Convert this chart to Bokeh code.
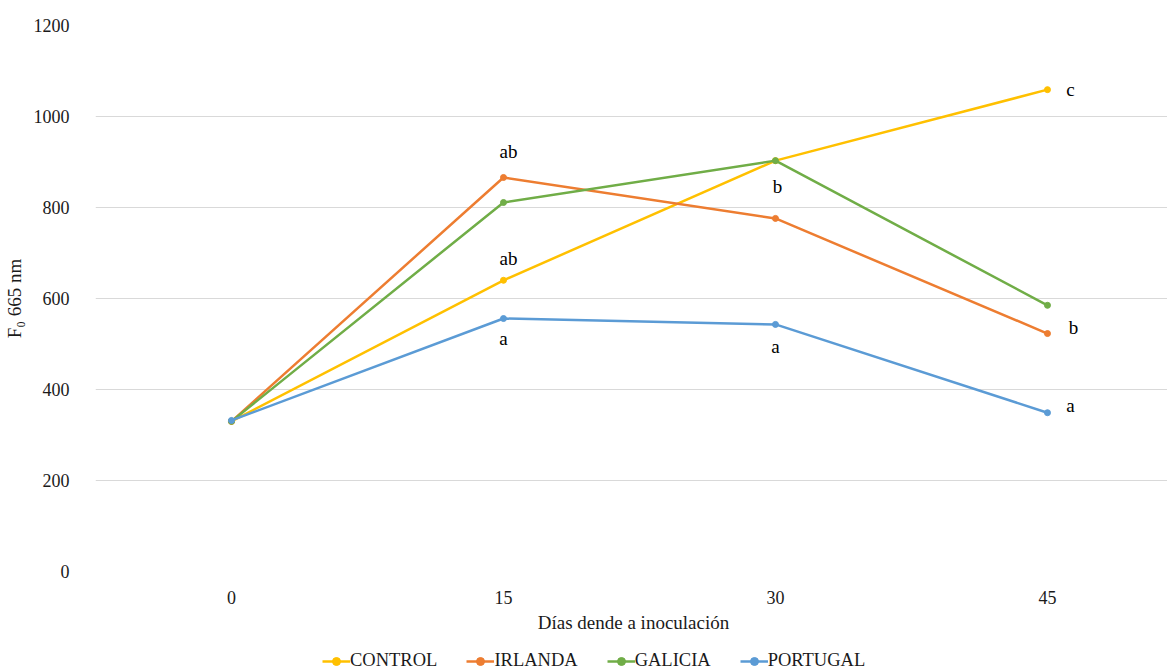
from bokeh.plotting import figure
from bokeh.layouts import column
from bokeh.models import (Range1d, FixedTicker, Legend, LegendItem, ColumnDataSource)
from bokeh.core.properties import value
from bokeh.embed import file_html
from bokeh.resources import INLINE

# Days after inoculation (categories) and F0 readings per treatment
days = ["0", "15", "30", "45"]
control = [330, 640, 903, 1059]
irlanda = [330, 866, 776, 523]
galicia = [330, 811, 903, 585]
portugal = [332, 556, 543, 349]

series_names = ["CONTROL", "IRLANDA", "GALICIA", "PORTUGAL"]
series_values = [control, irlanda, galicia, portugal]
colors = ["#FFC000", "#ED7D31", "#70AD47", "#5B9BD5"]

# Significance letters: (series index, day index, letter)
letters = [
    (1, 1, "ab"),
    (0, 1, "ab"),
    (3, 1, "a"),
    (2, 2, "b"),
    (3, 2, "a"),
    (0, 3, "c"),
    (1, 3, "b"),
    (3, 3, "a"),
]
# screen offsets (px) for each letter
letter_offsets = [(5, -26), (5, -22), (0, 20), (2, 26), (0, 22), (23, 0), (26, -6), (23, -7)]

FONT = "Liberation Serif"
TEXT_COLOR = "#1a1a1a"
xpos = list(range(len(days)))

p = figure(frame_width=1076, frame_height=546, output_backend="svg", toolbar_location=None,
           x_range=Range1d(-0.5, 3.456), y_range=Range1d(0, 1200),
           min_border_left=91, min_border_right=0, min_border_top=25,
           min_border_bottom=70)
p.outline_line_color = None
p.background_fill_color = "white"
p.border_fill_color = "white"

# axes
p.xaxis.ticker = FixedTicker(ticks=xpos)
p.xaxis.major_label_overrides = {i: d for i, d in enumerate(days)}
p.yaxis.ticker = FixedTicker(ticks=list(range(0, 1201, 200)))
for ax in (p.xaxis[0], p.yaxis[0]):
    ax.axis_line_color = None
    ax.major_tick_line_color = None
    ax.minor_tick_line_color = None
    ax.major_label_text_font = FONT
    ax.major_label_text_font_size = "18px"
    ax.major_label_text_color = TEXT_COLOR
    ax.axis_label_text_font = FONT
    ax.axis_label_text_font_size = "19px"
    ax.axis_label_text_font_style = "normal"
    ax.axis_label_text_color = TEXT_COLOR
p.xaxis.major_label_standoff = 13
p.yaxis.major_label_standoff = 20
p.xaxis.axis_label = "Días dende a inoculación"
p.xaxis.axis_label_standoff = 5
p.yaxis.axis_label = "F\u2080 665 nm"
p.yaxis.axis_label_standoff = 6

p.xgrid.grid_line_color = None
p.ygrid.grid_line_color = "#D9D9D9"
p.ygrid.grid_line_width = 1

for vals, col in zip(series_values, colors):
    src = ColumnDataSource(dict(x=xpos, y=vals))
    p.line("x", "y", source=src, line_color=col, line_width=2.5)
    p.scatter("x", "y", source=src, size=6, fill_color=col, line_color=col)

# significance letters next to the points
lx, ly, lt, ox, oy = [], [], [], [], []
for (si, di, txt), (dx, dy) in zip(letters, letter_offsets):
    lx.append(xpos[di])
    ly.append(series_values[si][di])
    lt.append(txt)
    ox.append(dx)
    oy.append(dy)
p.text(x=lx, y=ly, text=lt, x_offset=ox, y_offset=oy,
       text_font=value(FONT), text_font_size="19px", text_color="#000000",
       text_align="center", text_baseline="middle")

# legend strip underneath the chart (its frame lines up with the chart frame)
leg = figure(width=1167, height=30, output_backend="svg", toolbar_location=None,
             x_range=Range1d(0, 1), y_range=Range1d(0, 1),
             min_border_left=91, min_border_right=0, min_border_top=0,
             min_border_bottom=0)
leg.axis.visible = False
leg.grid.visible = False
leg.outline_line_color = None
items = []
for name, col in zip(series_names, colors):
    # points sit outside the visible range; only the legend swatches show
    offscreen = ColumnDataSource(dict(x=[-5, -4], y=[-5, -5]))
    r1 = leg.line("x", "y", source=offscreen, line_color=col, line_width=2.5)
    r2 = leg.scatter("x", "y", source=offscreen, size=6, fill_color=col, line_color=col)
    items.append(LegendItem(label=name, renderers=[r1, r2]))
legend = Legend(items=items, orientation="horizontal", location=(227, 0),
                label_text_font=FONT, label_text_font_size="18.5px",
                label_text_color=TEXT_COLOR,
                glyph_width=28, glyph_height=20, label_height=20,
                label_standoff=0, spacing=29,
                padding=0, margin=0, border_line_color=None,
                background_fill_alpha=0)
leg.add_layout(legend, "center")

layout = column(p, leg, spacing=0)
open("out.html", "w").write(file_html(layout, INLINE))
